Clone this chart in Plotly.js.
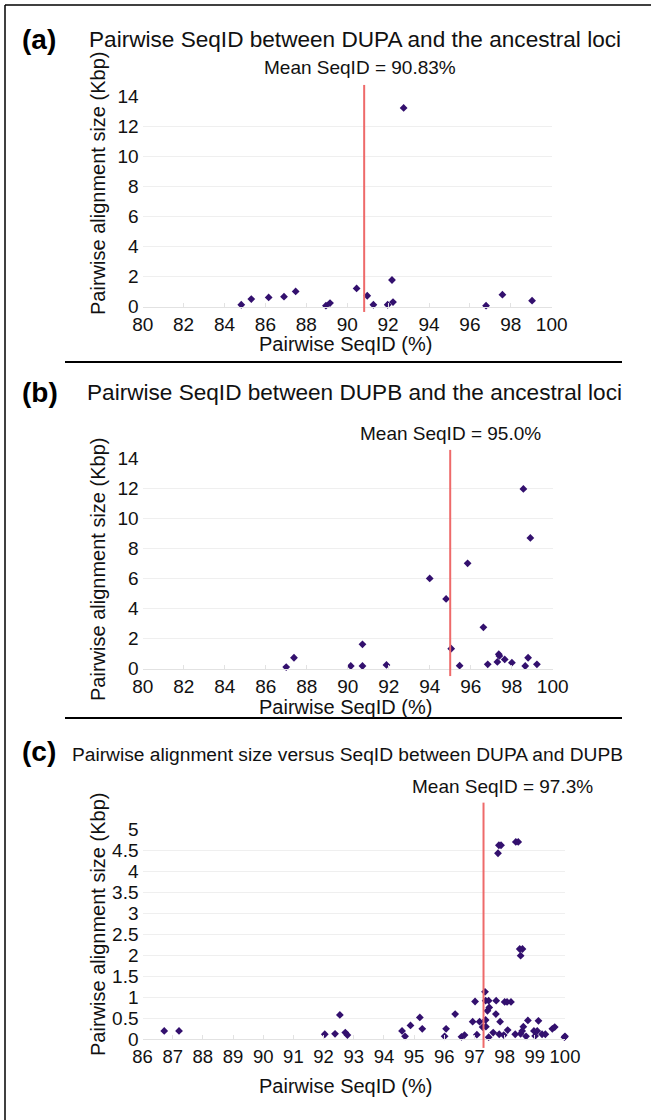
<!DOCTYPE html>
<html><head><meta charset="utf-8">
<script src="https://cdn.plot.ly/plotly-3.0.1.min.js"></script>
<style>html,body{margin:0;padding:0;background:#fff}#chart{width:651px;height:1120px}</style>
</head><body><div id="chart"></div>
<script>
// Panel (a): DUPA vs ancestral loci
const aX = [84.82,85.31,86.16,86.91,87.48,88.96,89.16,90.46,90.98,91.28,91.98,92.19,92.24,92.76,96.79,97.59,99.04];
const aY = [0.13,0.51,0.62,0.67,1.02,0.07,0.24,1.22,0.73,0.13,0.13,1.78,0.31,13.25,0.07,0.80,0.40];
const aMean = 90.83;
// Panel (b): DUPB vs ancestral loci
const bX = [87.0,87.38,90.15,90.72,90.72,91.89,94.0,94.8,95.05,95.46,95.85,96.62,96.83,97.3,97.37,97.4,97.66,98.01,98.57,98.66,98.8,98.91,99.23];
const bY = [0.11,0.73,0.18,1.62,0.18,0.25,6.01,4.64,1.33,0.2,7.01,2.75,0.29,0.45,0.96,0.85,0.62,0.4,11.96,0.18,0.73,8.7,0.29];
const bMean = 95.0;
// Panel (c): DUPA vs DUPB
const cX = [86.72,87.21,92.04,92.38,92.54,92.72,92.79,94.6,94.7,94.88,95.19,95.27,96.01,96.06,96.36,96.57,96.67,96.94,97.02,97.08,97.17,97.27,97.35,97.37,97.37,97.38,97.43,97.47,97.47,97.49,97.62,97.72,97.71,97.81,97.88,97.78,97.82,97.85,97.97,98.0,98.08,98.1,98.21,98.35,98.37,98.45,98.5,98.59,98.53,98.53,98.58,98.62,98.71,98.77,98.97,99.01,99.08,99.12,99.24,99.35,99.58,99.66,100.0,99.98];
const cY = [0.2,0.2,0.12,0.13,0.58,0.16,0.1,0.2,0.07,0.33,0.52,0.25,0.07,0.25,0.6,0.06,0.1,0.42,0.9,0.11,0.42,0.29,1.13,0.92,0.46,0.3,0.68,0.92,0.05,0.76,0.16,0.92,0.6,4.62,4.62,4.43,0.12,0.42,0.1,0.89,0.89,0.22,0.89,0.12,4.7,4.7,2.15,2.15,1.99,0.13,0.2,0.3,0.07,0.45,0.2,0.08,0.2,0.44,0.12,0.12,0.25,0.29,0.07,0.05];
const cMean = 97.3;

const titles = ["Pairwise SeqID between DUPA and the ancestral loci",
                "Pairwise SeqID between DUPB and the ancestral loci",
                "Pairwise alignment size versus SeqID between DUPA and DUPB"];
const meanLabels = ["Mean SeqID = 90.83%","Mean SeqID = 95.0%","Mean SeqID = 97.3%"];
const xTitle = "Pairwise SeqID (%)";
const yTitle = "Pairwise alignment size (Kbp)";

const W = 651, H = 1120;
const px = x => x / W, py = y => 1 - y / H;
const FONT = "Liberation Sans, Arial, Helvetica, sans-serif";
const MARK = '#33106e';
const TXT = '#111';

function tr(x, y, xa, ya) {
  return {type:'scatter', mode:'markers', x:x, y:y, xaxis:xa, yaxis:ya,
    marker:{symbol:'diamond', size:6, color:MARK}, cliponaxis:false, hoverinfo:'x+y'};
}
const data = [tr(aX,aY,'x','y'), tr(bX,bY,'x2','y2'), tr(cX,cY,'x3','y3')];

function xax(dom, range, dtick, anchor, fs) {
  return {domain:dom, range:range, dtick:dtick, tick0:range[0], anchor:anchor,
    showgrid:false, zeroline:false, showline:true, linecolor:'#e2e2e2', linewidth:1,
    ticks:'inside', ticklen:4, tickcolor:'#e2e2e2', ticklabelstandoff:0,
    tickfont:{family:FONT, size:fs, color:TXT}, fixedrange:true};
}
function yax(dom, range, dtick, anchor) {
  return {domain:dom, range:range, dtick:dtick, tick0:0, anchor:anchor,
    showgrid:true, gridcolor:'#efefef', gridwidth:1, zeroline:false, showline:false,
    ticks:'', ticklabelstandoff:3, tickfont:{family:FONT, size:19, color:TXT}, fixedrange:true};
}

const layout = {
  width:W, height:H, margin:{l:0,r:0,t:0,b:0},
  paper_bgcolor:'#fff', plot_bgcolor:'#fff', showlegend:false,
  xaxis: xax([px(142.7), px(551.7)], [80,100], 2, 'y', 19),
  yaxis: yax([py(306.7), py(96.7)], [0,14], 2, 'x'),
  xaxis2: xax([px(142.7), px(552.7)], [80,100], 2, 'y2', 19),
  yaxis2: yax([py(668.7), py(458.3)], [0,14], 2, 'x2'),
  xaxis3: xax([px(142.5), px(565)], [86,100], 1, 'y3', 18.5),
  yaxis3: yax([py(1039.3), py(829.3)], [0,5], 0.5, 'x3'),
  shapes: [
    {type:'line', xref:'paper', yref:'paper', x0:px(5), x1:1, y0:py(5), y1:py(5), line:{color:'#000', width:1.5}},
    {type:'line', xref:'paper', yref:'paper', x0:px(5), x1:px(5), y0:0, y1:py(5), line:{color:'#000', width:1.5}},
    {type:'line', xref:'paper', yref:'paper', x0:px(65), x1:px(622), y0:py(362), y1:py(362), line:{color:'#000', width:2}},
    {type:'line', xref:'paper', yref:'paper', x0:px(65), x1:px(622), y0:py(718), y1:py(718), line:{color:'#000', width:2}},
    {type:'line', xref:'x', yref:'y domain', x0:aMean, x1:aMean, y0:-0.025, y1:1.056, line:{color:'#ee6a6a', width:2}},
    {type:'line', xref:'x2', yref:'y2 domain', x0:bMean, x1:bMean, y0:-0.035, y1:1.04, line:{color:'#ee6a6a', width:2}},
    {type:'line', xref:'x3', yref:'y3 domain', x0:cMean, x1:cMean, y0:-0.041, y1:1.127, line:{color:'#ee6a6a', width:2}}
  ],
  annotations: []
};

function ann(text, x, y, opts) {
  layout.annotations.push(Object.assign({text:text, xref:'paper', yref:'paper', x:px(x), y:py(y),
    showarrow:false, xanchor:'center', yanchor:'middle',
    font:{family:FONT, size:16, color:TXT}}, opts||{}));
}
const HF = {family:FONT, size:28, color:'#000'};
const TF = {family:FONT, size:22.6, color:TXT};
const AF = {family:FONT, size:20, color:TXT};
// headers
ann('<b>(a)</b>', 20, 40, {xanchor:'left', font:HF});
ann(titles[0], 87, 40, {xanchor:'left', font:TF});
ann('<b>(b)</b>', 20, 392, {xanchor:'left', font:HF});
ann(titles[1], 85, 392, {xanchor:'left', font:TF});
ann('<b>(c)</b>', 20, 752, {xanchor:'left', font:HF});
ann(titles[2], 70, 754, {xanchor:'left', font:{family:FONT, size:19.2, color:TXT}});
// mean labels
ann(meanLabels[0], 360, 67, {font:{family:FONT, size:19, color:TXT}});
ann(meanLabels[1], 450, 433, {font:{family:FONT, size:19, color:TXT}});
ann(meanLabels[2], 502, 787, {font:{family:FONT, size:19, color:TXT}});
// axis titles
ann(xTitle, 345, 344, {font:AF});
ann(xTitle, 345, 707, {font:AF});
ann(xTitle, 345, 1086, {font:AF});
ann(yTitle, 98, 184, {textangle:-90, font:AF});
ann(yTitle, 98, 570, {textangle:-90, font:AF});
ann(yTitle, 98, 925, {textangle:-90, font:AF});

Plotly.newPlot('chart', data, layout, {staticPlot:true, displayModeBar:false});
</script></body></html>
